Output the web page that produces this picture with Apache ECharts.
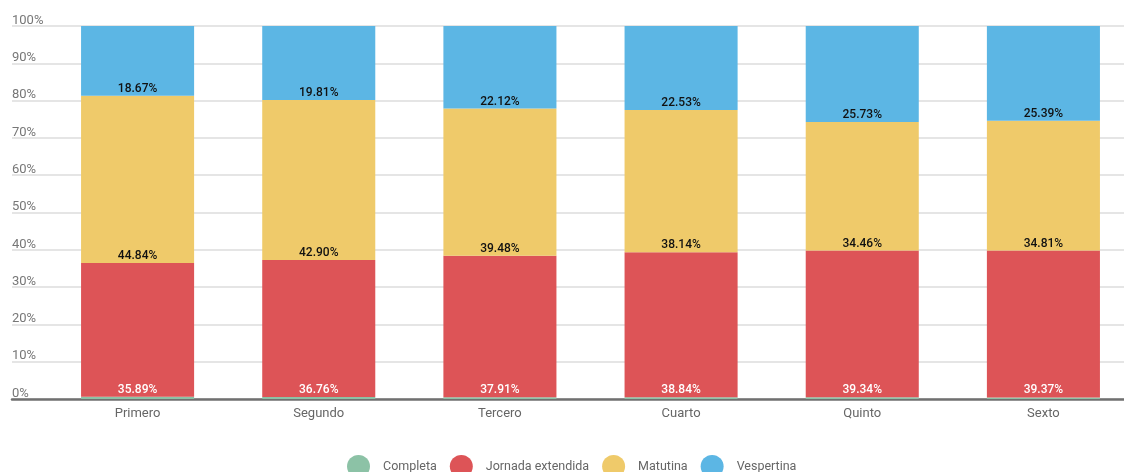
<!DOCTYPE html>
<html>
<head>
<meta charset="utf-8">
<script src="https://cdn.jsdelivr.net/npm/echarts@6/dist/echarts.min.js"></script>
<style>html,body{margin:0;padding:0;background:#fff}#c{width:1124px;height:472px}</style>
</head>
<body>
<div id="c"></div>
<script>
const categories = ['Primero', 'Segundo', 'Tercero', 'Cuarto', 'Quinto', 'Sexto'];
const completa = [0.60, 0.53, 0.49, 0.49, 0.47, 0.43];
const jornada = [35.89, 36.76, 37.91, 38.84, 39.34, 39.37];
const matutina = [44.84, 42.90, 39.48, 38.14, 34.46, 34.81];
const vespertina = [18.67, 19.81, 22.12, 22.53, 25.73, 25.39];
const seriesNames = ['Completa', 'Jornada extendida', 'Matutina', 'Vespertina'];
const colors = ['#8cc2a6', '#dd5457', '#efca6a', '#5cb6e4'];

const fmt = p => p.value.toFixed(2) + '%';
function mk(name, data, color, labelColor, show) {
  return {
    name, type: 'bar', stack: 'total', data, xAxisIndex: 1, yAxisIndex: 1,
    barWidth: '62.4%',
    itemStyle: { color },
    label: {
      show, position: 'insideBottom', distance: 1, formatter: fmt, lineHeight: 12,
      color: labelColor, fontSize: 12, fontFamily: 'Roboto', fontWeight: 500
    }
  };
}
const chart = echarts.init(document.getElementById('c'));
chart.setOption({
  animation: false,
  color: colors,
  textStyle: { fontFamily: 'Roboto' },
  grid: [
    { left: 12, right: 0, top: 26, bottom: 73, outerBoundsMode: 'none', containLabel: false },
    { left: 47, right: -10, top: 26, bottom: 73, outerBoundsMode: 'none', containLabel: false }
  ],
  xAxis: [
    { type: 'category', gridIndex: 0, data: categories, axisLine: { lineStyle: { color: '#707070', width: 2.5 } }, axisTick: { show: false }, axisLabel: { show: false } },
    { type: 'category', gridIndex: 1, data: categories, axisLine: { show: false }, axisTick: { show: false },
      axisLabel: { color: '#666', fontSize: 13, margin: 8, fontFamily: 'Roboto' } }
  ],
  yAxis: [
    { type: 'value', gridIndex: 0, min: 0, max: 100, interval: 10,
      axisLine: { show: false }, axisTick: { show: false },
      splitLine: { lineStyle: { color: '#dcdcdc', width: 1.5 } },
      axisLabel: { inside: true, margin: 0, align: 'left', verticalAlign: 'bottom', lineHeight: 11, padding: 0,
        color: '#777', fontSize: 13, fontFamily: 'Roboto', formatter: '{value}%' } },
    { type: 'value', gridIndex: 1, min: 0, max: 100, show: false, splitLine: { show: false } }
  ],
  legend: {
    data: seriesNames, top: 455, left: 347, padding: 0, icon: 'circle', itemWidth: 23, itemHeight: 23, itemGap: 13,
    textStyle: { color: '#666', fontSize: 12.5, fontFamily: 'Roboto', padding: [0, 0, 0, 8] }
  },
  series: [
    mk(seriesNames[0], completa, colors[0], '#000', false),
    mk(seriesNames[1], jornada, colors[1], '#fff', true),
    mk(seriesNames[2], matutina, colors[2], '#111', true),
    mk(seriesNames[3], vespertina, colors[3], '#111', true)
  ]
});
</script>
</body>
</html>
